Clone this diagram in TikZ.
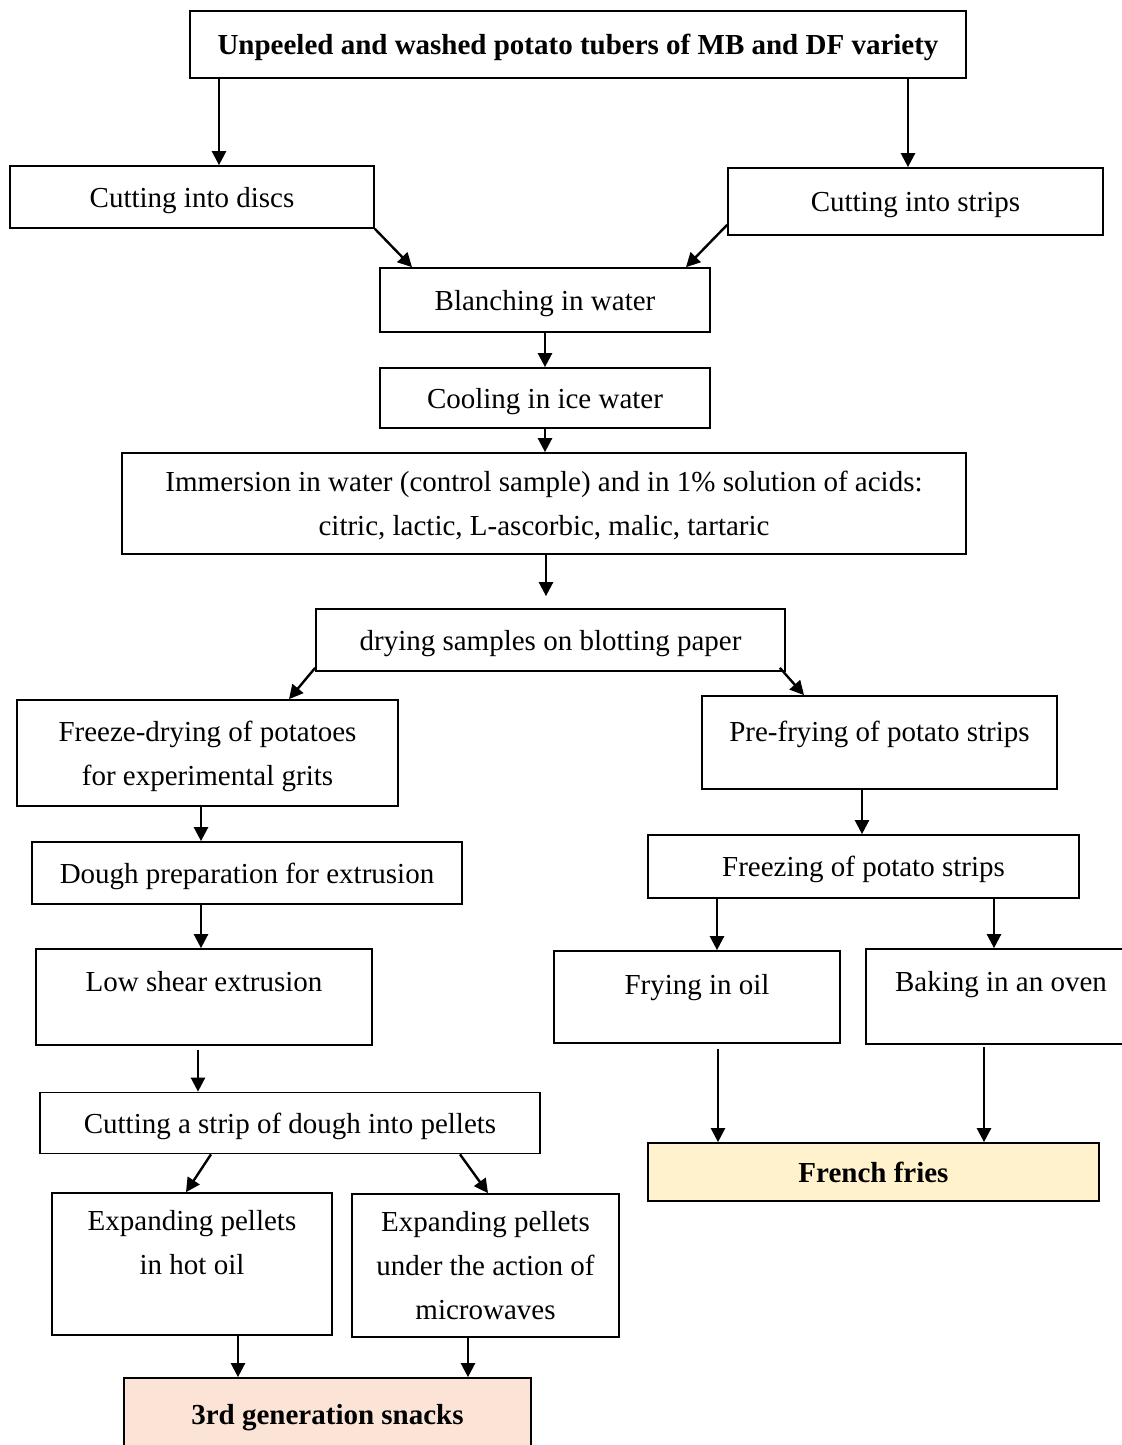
\documentclass[tikz,border=0pt]{standalone}
\usepackage{fontspec}
\setmainfont{Liberation Serif}
\usepackage{tikz}
\usetikzlibrary{arrows.meta}
\definecolor{friesyellow}{RGB}{255,242,204}
\definecolor{snackpink}{RGB}{251,228,214}

\tikzset{
  stage/.style={draw, line width=0.85pt, align=center, inner sep=0pt, text depth=-2pt},
  sz/.style 2 args={minimum width=#1*0.5pt, minimum height=#2*0.5pt},
  flow/.style={-{Triangle[length=7pt,width=7pt]}, line width=1.2pt},
}

\begin{document}
\begin{tikzpicture}[x=0.5pt, y=-0.5pt, every node/.style={font=\fontsize{14.5}{22}\selectfont}]
        \path[use as bounding box, fill=white] (0,0) rectangle (1121,1445);
        % steps
        \node[stage, sz={776}{67}] (tubers) at (578,44.5) {\textbf{Unpeeled and washed potato tubers of MB and DF variety}};
        \node[stage, sz={364}{62}] (discs) at (192,197) {Cutting into discs};
        \node[stage, sz={375}{67}] (strips) at (915.5,201.5) {Cutting into strips};
        \node[stage, sz={330}{64}] (blanch) at (545,300) {Blanching in water};
        \node[stage, sz={330}{60}] (cool) at (545,398) {Cooling in ice water};
        \node[stage, sz={844}{101}] (immerse) at (544,503.5) {Immersion in water (control sample) and in 1\% solution of acids:\\citric, lactic, L-ascorbic, malic, tartaric};
        \node[stage, sz={469}{62}] (dry) at (550.5,640) {drying samples on blotting paper};
        % snacks branch
        \node[stage, sz={381}{106}] (freeze) at (207.5,753) {Freeze-drying of potatoes\\for experimental grits};
        \node[stage, sz={430}{62}] (dough) at (247,873) {Dough preparation for extrusion};
        \node[stage, sz={336}{96}, text depth=15.5pt] (shear) at (204,997) {Low shear extrusion};
        \node[stage, sz={500}{61}] (pellets) at (290,1123) {Cutting a strip of dough into pellets};
        \node[stage, sz={280}{142}] (hotoil) at (192,1264) {Expanding pellets\\in hot oil\\\mbox{}};
        \node[stage, sz={267}{143}] (micro) at (485.5,1265.5) {Expanding pellets\\under the action of\\microwaves};
        \node[stage, sz={407}{72}, fill=snackpink] (snacks) at (327.5,1414) {\textbf{3rd generation snacks}};
        % fries branch
        \node[stage, sz={355}{93}, text depth=11.5pt] (prefry) at (879.5,742.5) {Pre-frying of potato strips};
        \node[stage, sz={431}{63}] (freezing) at (863.5,866.5) {Freezing of potato strips};
        \node[stage, sz={286}{92}, text depth=13pt] (frying) at (697,997) {Frying in oil};
        \node[stage, sz={270}{95}, text depth=15.5pt] (baking) at (1001,996.5) {Baking in an oven};
        \node[stage, sz={451}{58}, fill=friesyellow] (fries) at (873.5,1172) {\textbf{French fries}};

        % arrows
        \draw[flow] (tubers.south -| 219,0) -- (discs.north -| 219,0);
        \draw[flow] (tubers.south -| 908,0) -- (strips.north -| 908,0);
        \draw[flow] (discs.south east) -- (blanch.north -| 412,0);
        \draw[flow] ([yshift=5.5pt]strips.south west) -- (blanch.north -| 686,0);
        \draw[flow] (blanch) -- (cool);
        \draw[flow] (cool.south) -- (cool.south |- immerse.north);
        \draw[flow, shorten >=6pt] (immerse.south -| 546,0) -- (dry.north -| 546,0);
        \draw[flow] ([yshift=2pt]dry.south west) -- (freeze.north -| 289,0);
        \draw[flow] ([shift={(-3pt,2pt)}]dry.south east) -- (prefry.north -| 804,0);
        \draw[flow] (freeze.south -| 201,0) -- (dough.north -| 201,0);
        \draw[flow] (dough.south -| 201,0) -- (shear.north -| 201,0);
        \draw[flow, shorten <=2pt] (shear.south -| 198,0) -- (pellets.north -| 198,0);
        \draw[flow] (pellets.south -| 211,0) -- (hotoil.north -| 186,0);
        \draw[flow] (pellets.south -| 460,0) -- (micro.north -| 488,0);
        \draw[flow] (hotoil.south -| 238,0) -- (snacks.north -| 238,0);
        \draw[flow] (micro.south -| 468,0) -- (snacks.north -| 468,0);
        \draw[flow] (prefry.south -| 862,0) -- (freezing.north -| 862,0);
        \draw[flow] (freezing.south -| 717,0) -- (frying.north -| 717,0);
        \draw[flow] (freezing.south -| 994,0) -- (baking.north -| 994,0);
        \draw[flow, shorten <=2.5pt] (frying.south -| 718,0) -- (fries.north -| 718,0);
        \draw[flow, shorten <=1pt] (baking.south -| 984,0) -- (fries.north -| 984,0);
      \end{tikzpicture}
\end{document}
